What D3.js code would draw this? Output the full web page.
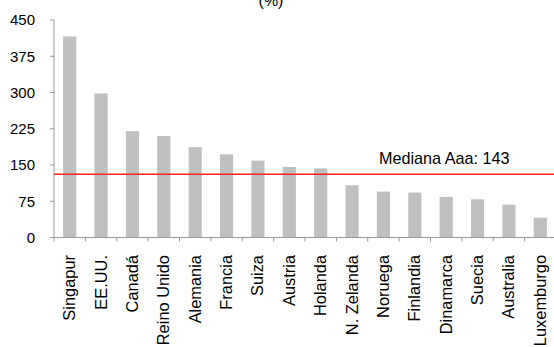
<html>
    <head>
        <script src="https://cdn.jsdelivr.net/npm/d3@7"></script>
        <style>
            body { margin: 0; background: #fff; }
            svg { display: block; font-family: "Liberation Sans", Arial, sans-serif; }
        </style>
    </head>
    <body>
        <svg id="chart"></svg>
    </body>
    <script>
        const WIDTH = 554
        const HEIGHT = 347
        const MARGIN = {top: 20, left: 54, bottom: 110, right: -2}

        // values
        const countries = ["Singapur", "EE.UU.", "Canadá", "Reino Unido", "Alemania", "Francia", "Suiza",
            "Austria", "Holanda", "N. Zelanda", "Noruega", "Finlandia", "Dinamarca", "Suecia", "Australia", "Luxemburgo"]
        const values = [416, 298, 220, 210, 187, 172, 159, 146, 143, 108, 95, 93, 84, 79, 68, 41]
        const yTicks = [0, 75, 150, 225, 300, 375, 450]
        const medianLevel = 131
        const medianLabel = "Mediana Aaa: 143"
        const title = "(%)"

        const svg = d3.select("#chart").attr("width", WIDTH).attr("height", HEIGHT)

        const x = d3.scaleBand()
            .domain(countries)
            .range([MARGIN.left, WIDTH - MARGIN.right])
            .paddingInner(0.58)
            .paddingOuter(0.29)

        const y = d3.scaleLinear()
            .domain([0, 450])
            .range([237.5, MARGIN.top])

        const axisColor = "#999"

        // title (only its last line shows, cut off at the top)
        svg.append("text")
            .attr("x", 271)
            .attr("y", 6)
            .attr("text-anchor", "middle")
            .attr("font-size", 16)
            .attr("fill", "#000")
            .text(title)

        // bars
        svg.append("g")
            .selectAll("rect")
            .data(values)
            .join("rect")
                .attr("x", (d, i) => x(countries[i]))
                .attr("width", x.bandwidth())
                .attr("y", d => y(d))
                .attr("height", d => y(0) - y(d))
                .attr("fill", "#c0c0c0")

        // y axis
        const yAxis = svg.append("g")
        yAxis.append("line")
            .attr("x1", MARGIN.left).attr("x2", MARGIN.left)
            .attr("y1", y(450)).attr("y2", y(0))
            .attr("stroke", axisColor)
        yAxis.selectAll("line.tick")
            .data(yTicks)
            .join("line")
                .attr("class", "tick")
                .attr("x1", MARGIN.left - 4).attr("x2", MARGIN.left)
                .attr("y1", d => y(d)).attr("y2", d => y(d))
                .attr("stroke", axisColor)
        yAxis.selectAll("text")
            .data(yTicks)
            .join("text")
                .attr("x", 35)
                .attr("y", d => y(d))
                .attr("dy", "0.36em")
                .attr("text-anchor", "end")
                .attr("font-size", 15)
                .attr("fill", "#000")
                .text(d => d)

        // x axis
        const gap = (x.step() - x.bandwidth()) / 2
        const xAxis = svg.append("g")
        xAxis.append("line")
            .attr("x1", MARGIN.left).attr("x2", WIDTH)
            .attr("y1", y(0)).attr("y2", y(0))
            .attr("stroke", axisColor)
        xAxis.selectAll("line.tick")
            .data(countries)
            .join("line")
                .attr("class", "tick")
                .attr("x1", d => x(d) - gap).attr("x2", d => x(d) - gap)
                .attr("y1", y(0)).attr("y2", y(0) + 4)
                .attr("stroke", axisColor)
        xAxis.selectAll("text")
            .data(countries)
            .join("text")
                .attr("transform", d => `translate(${x(d) + x.bandwidth() / 2 + 5.5},255) rotate(-90)`)
                .attr("text-anchor", "end")
                .attr("font-size", 16.4)
                .attr("fill", "#000")
                .text(d => d)

        // median line and label
        svg.append("line")
            .attr("x1", MARGIN.left).attr("x2", WIDTH)
            .attr("y1", y(medianLevel)).attr("y2", y(medianLevel))
            .attr("stroke", "#ff2020")
            .attr("stroke-width", 1.6)
        svg.append("text")
            .attr("x", 379)
            .attr("y", y(medianLevel) - 10)
            .attr("font-size", 16.2)
            .attr("fill", "#000")
            .text(medianLabel)
    </script>
</html>
